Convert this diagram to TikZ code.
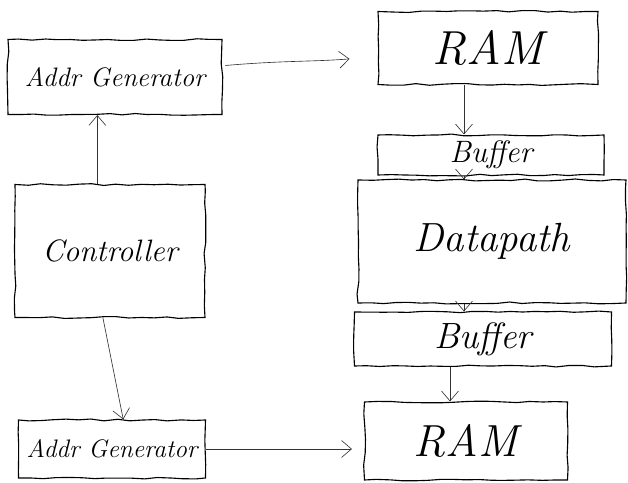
\documentclass[tikz,border=0pt]{standalone}
\usetikzlibrary{arrows.meta,decorations.pathmorphing}
\tikzset{
  block/.style={draw, line width=0.8pt, inner sep=0pt, font=\itshape,
    decorate, decoration={random steps, segment length=9pt, amplitude=0.7pt}},
  flow/.style={-{Straight Barb[length=7pt,width=12pt]}, line width=0.45pt, black!80}
}
\begin{document}
\begin{tikzpicture}
\useasboundingbox (0,0) rectangle (15.7,12.075);
% left column
\node[block, minimum width=5.35cm, minimum height=1.875cm, font=\itshape\fontsize{19}{19}\selectfont]
  (gentop) at (2.875,10.15) {Addr Generator};
\node[block, minimum width=4.75cm, minimum height=3.325cm, font=\itshape\fontsize{22}{22}\selectfont]
  (ctrl) at (2.75,5.8) {Controller};
\node[block, minimum width=4.675cm, minimum height=1.45cm, font=\itshape\fontsize{18}{18}\selectfont]
  (genbot) at (2.8,0.85) {Addr Generator};
% right column
\node[block, minimum width=5.5cm, minimum height=1.825cm, font=\itshape\fontsize{34}{34}\selectfont]
  (ramtop) at (12.2,10.875) {RAM};
\node[block, minimum width=5.65cm, minimum height=1.0cm, font=\itshape\fontsize{22}{22}\selectfont]
  (buftop) at (12.275,8.2) {Buffer};
\node[block, minimum width=6.7cm, minimum height=3.075cm, font=\itshape\fontsize{29}{29}\selectfont]
  (dpath) at (12.3,6.0375) {Datapath};
\node[block, minimum width=6.425cm, minimum height=1.35cm, font=\itshape\fontsize{26}{26}\selectfont]
  (bufbot) at (12.075,3.6) {Buffer};
\node[block, minimum width=5.075cm, minimum height=1.95cm, font=\itshape\fontsize{32}{32}\selectfont]
  (rambot) at (11.65,1.05) {RAM};
% connectors
\draw[flow] ([xshift=-9pt]ctrl.north) -- ([xshift=-9pt]ctrl.north |- gentop.south);
\draw[flow, shorten <=2pt, shorten >=0.7cm] ([yshift=8pt]gentop.east) to[out=5,in=185] ([yshift=-6pt]ramtop.west);
\draw[flow] ([xshift=-0.6cm]ramtop.south) -- ([xshift=-0.6cm]ramtop.south |- buftop.north);
\draw[flow] ([xshift=-0.6cm]ramtop.south |- buftop.south) -- ([xshift=-0.6cm]ramtop.south |- dpath.north);
\draw[flow] ([xshift=-0.6cm]ramtop.south |- dpath.south) -- ([xshift=-0.6cm]ramtop.south |- bufbot.north);
\draw[flow] ([xshift=-0.4cm]rambot.north |- bufbot.south) -- ([xshift=-0.4cm]rambot.north);
\draw[flow] ([xshift=-5pt]ctrl.south) -- ([xshift=8pt]genbot.north);
\draw[flow, shorten >=0.3cm] (genbot.east) -- (genbot.east -| rambot.west);
\end{tikzpicture}
\end{document}
